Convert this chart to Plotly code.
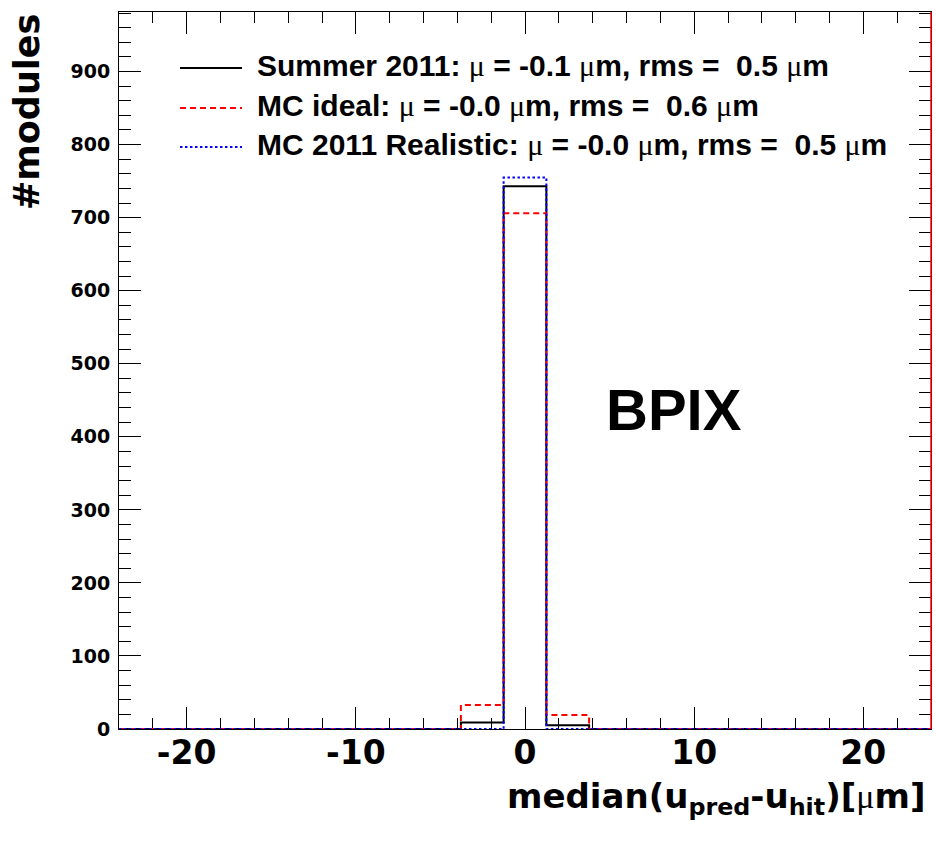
import plotly.graph_objects as go

# Histogram binning: 19 bins between -24 and 24 um
x_min, x_max, n_bins = -24.0, 24.0, 19
bin_width = (x_max - x_min) / n_bins
edges = [x_min + i * bin_width for i in range(n_bins + 1)]

# Module counts per bin
summer2011 = [0, 0, 0, 0, 0, 0, 0, 0, 9, 743, 5, 0, 0, 0, 0, 0, 0, 0, 0]
mc_ideal = [0, 0, 0, 0, 0, 0, 0, 0, 33, 706, 19, 0, 0, 0, 0, 0, 0, 0, 0]
mc_realistic = [0, 0, 0, 0, 0, 0, 0, 0, 0, 755, 0, 0, 0, 0, 0, 0, 0, 0, 0]

series_names = ["Summer 2011", "MC ideal", "MC 2011 Realistic"]
series_means = [-0.1, -0.0, -0.0]
series_rms = [0.5, 0.6, 0.5]
series_counts = [summer2011, mc_ideal, mc_realistic]
series_colors = ["black", "red", "blue"]
series_dash = ["solid", "6px,4px", "2.5px,2.5px"]

x_ticks = [-20, -10, 0, 10, 20]
y_ticks = [0, 100, 200, 300, 400, 500, 600, 700, 800, 900]

y_max = 1.3 * max(max(c) for c in series_counts)

AXIS_FONT = "DejaVu Sans"
TEXT_FONT = "Liberation Sans, Arial, Helvetica, sans-serif"
MU = '<span style="font-family:\'Liberation Serif\';font-weight:normal">\u03bc</span>'

fig = go.Figure()

for name, counts, color, dash in zip(series_names, series_counts, series_colors, series_dash):
    fig.add_trace(go.Scatter(
        x=edges,
        y=counts + [counts[-1]],
        mode="lines",
        line=dict(color=color, width=2, dash=dash, shape="hv"),
        name=name,
        showlegend=False,
        hoverinfo="skip",
    ))

# Hand-placed legend box (line sample + label)
legend_rows_y = [0.9219, 0.8661, 0.8117]
for name, mean, rms, color, dash, yy in zip(series_names, series_means, series_rms,
                                             series_colors, series_dash, legend_rows_y):
    fig.add_shape(type="line", xref="paper", yref="paper",
                  x0=0.0751, x1=0.1515, y0=yy, y1=yy,
                  line=dict(color=color, width=2, dash=dash))
    label = (f"{name}: {MU} = {mean:.1f} {MU}m, rms =\u00a0 {rms:.1f} {MU}m")
    fig.add_annotation(xref="paper", yref="paper", x=0.1675, y=yy + 0.004,
                       xanchor="left", yanchor="middle", showarrow=False,
                       text=label,
                       font=dict(family=TEXT_FONT, size=30, color="black", weight="bold"))

# Detector label
fig.add_annotation(xref="paper", yref="paper", x=0.683, y=0.445,
                   xanchor="center", yanchor="middle", showarrow=False,
                   text="BPIX",
                   font=dict(family=TEXT_FONT, size=58, color="black", weight="bold"))

# Axis titles
fig.add_annotation(xref="paper", yref="paper", x=0.9945, y=-0.063,
                   xanchor="right", yanchor="top", showarrow=False,
                   text=f"median(u<sub>pred</sub>-u<sub>hit</sub>)[{MU}m]",
                   font=dict(family=AXIS_FONT, size=34, color="black", weight="bold"))
fig.add_annotation(xref="paper", yref="paper", x=-0.1133, y=1.0,
                   xanchor="center", yanchor="top", textangle=-90, showarrow=False,
                   text="#modules",
                   font=dict(family=AXIS_FONT, size=35, color="black", weight="bold"))

# Red right-hand border line
fig.add_shape(type="line", xref="paper", yref="paper", x0=1, x1=1, y0=0, y1=1,
              line=dict(color="red", width=1.5))

fig.update_layout(
    width=936, height=844,
    margin=dict(l=119, r=5, t=12, b=115),
    paper_bgcolor="white", plot_bgcolor="white",
    showlegend=False,
    xaxis=dict(
        range=[x_min, x_max], tickvals=x_ticks, ticktext=[str(v) for v in x_ticks],
        ticks="inside", ticklen=22, tickwidth=1, tickcolor="black",
        minor=dict(dtick=2, tick0=0, ticks="inside", ticklen=11, tickcolor="black", tickwidth=1),
        showline=True, linecolor="black", linewidth=1, mirror="ticks",
        showgrid=False, zeroline=False, layer="below traces",
        tickfont=dict(family=AXIS_FONT, size=33, color="black", weight="bold"),
        ticklabelstandoff=-6,
    ),
    yaxis=dict(
        range=[0, y_max], tickvals=y_ticks, ticktext=[str(v) for v in y_ticks],
        ticks="inside", ticklen=22, tickwidth=1, tickcolor="black",
        minor=dict(dtick=20, tick0=0, ticks="inside", ticklen=12, tickcolor="black", tickwidth=1),
        showline=True, linecolor="black", linewidth=1, mirror="ticks",
        showgrid=False, zeroline=False, layer="below traces",
        tickfont=dict(family=AXIS_FONT, size=19, color="black", weight="bold"),
        ticklabelstandoff=4,
    ),
)

fig.write_html("out.html")
